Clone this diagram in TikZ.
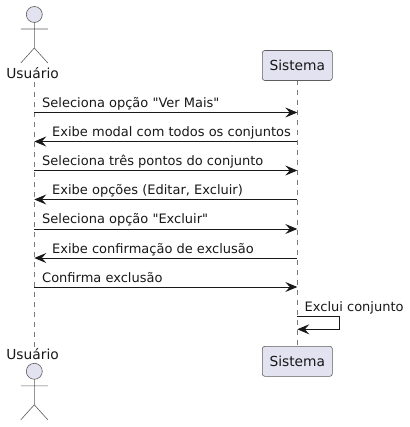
\documentclass[tikz,border=0pt]{standalone}
\usepackage{fontspec}
\newfontfamily\plainfont{DejaVu Sans}
\usetikzlibrary{arrows.meta}
\definecolor{pfill}{HTML}{E2E2F0}
\definecolor{pline}{HTML}{181818}
\definecolor{pgray}{HTML}{7A7A7A}
\tikzset{
  x=1pt,y=-1pt,
  part/.style={draw=pline!70!white,fill=pfill,rounded corners=2.5pt,line width=.6pt,minimum width=70pt,minimum height=30pt,inner sep=0pt,font=\plainfont\fontsize{13.8}{16}\selectfont,text=pline},
  actorname/.style={inner sep=0pt,anchor=base,font=\plainfont\fontsize{13.8}{16}\selectfont,text=pline},
  actorline/.style={draw=pline!70!white,line width=.6pt},
  life/.style={draw=pgray,line width=.6pt,dash pattern=on 5pt off 5pt},
  msg/.style={draw=pline,line width=.8pt,-{Stealth[length=12pt,width=10pt,inset=4.5pt]}},
  lbl/.style={inner sep=0pt,anchor=base west,font=\plainfont\fontsize{13}{15}\selectfont,text=pline},
}
\newcommand{\stick}[2]{% x, head y
  \draw[actorline,fill=pfill] (#1,#2) circle[radius=8];
  \draw[actorline] (#1,#2+8) -- (#1,#2+33.5)
    (#1-13.5,#2+14.5) -- (#1+13.5,#2+14.5)
    (#1-13.5,#2+48.5) -- (#1,#2+33.5) -- (#1+13.5,#2+48.5);
}
\begin{document}
\begin{tikzpicture}
\useasboundingbox (0,0) rectangle (409,427);
\node[actorname] (ut) at (32.6,78.7) {Usuário};
\node[actorname] (ub) at (32.6,359.2) {Usuário};
\coordinate (ul) at (34.3,82);
\coordinate (ue) at (34.3,347);
\coordinate (sl) at (297.3,80);
\coordinate (se) at (297.3,347);
\draw[life] (ul) -- (ue);
\draw[life] (sl) -- (se);
\node[part] (st) at (297.3,65.5) {Sistema};
\node[part] (sb) at (297.3,361.3) {Sistema};
\stick{34.3}{14.5}
\stick{34.3}{371.3}
\foreach \n/\y in {1/112.5,2/141.5,3/170.5,4/199.5,5/229,6/258,7/287,8/316.3,9/329.3}{
  \coordinate (u\n) at (34.3,\y);
  \coordinate (s\n) at (297.3,\y);
}
\coordinate (c8) at (339.3,316.3);
\coordinate (c9) at (339.3,329.3);
\draw[msg] (u1) -- (s1);
\draw[msg] (s2) -- (u2);
\draw[msg] (u3) -- (s3);
\draw[msg] (s4) -- (u4);
\draw[msg] (u5) -- (s5);
\draw[msg] (s6) -- (u6);
\draw[msg] (u7) -- (s7);
\draw[msg] (s8) -- (c8) -- (c9) -- (s9);
\node[lbl] at (42,107.7) {Seleciona opção "Ver Mais"};
\node[lbl] at (52,136.7) {Exibe modal com todos os conjuntos};
\node[lbl] at (42,165.7) {Seleciona três pontos do conjunto};
\node[lbl] at (52,194.7) {Exibe opções (Editar, Excluir)};
\node[lbl] at (42,223.7) {Seleciona opção "Excluir"};
\node[lbl] at (52,253.2) {Exibe confirmação de exclusão};
\node[lbl] at (42,282.2) {Confirma exclusão};
\node[lbl] at (304.5,311.2) {Exclui conjunto};
\end{tikzpicture}
\end{document}
